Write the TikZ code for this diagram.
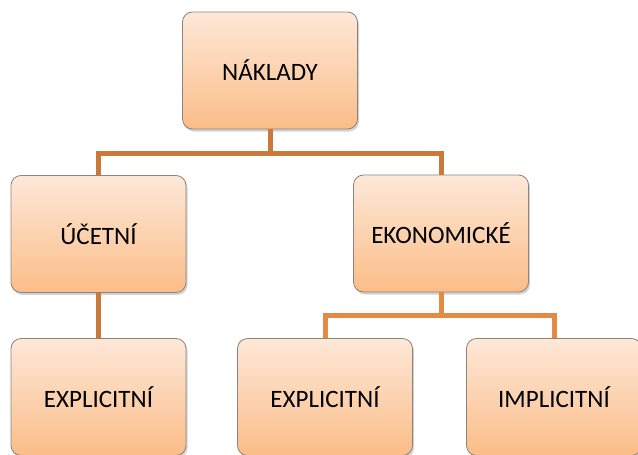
\documentclass[tikz,border=0pt]{standalone}
\usepackage{fontspec}
\setmainfont{Carlito}
\usepackage{tikz}
\usetikzlibrary{calc}
\usetikzlibrary{shadows}

\definecolor{boxtop}{HTML}{FDE8D8}
\definecolor{boxbottom}{HTML}{FBBD88}
\definecolor{boxrim}{HTML}{8E837B}
\definecolor{linkdark}{HTML}{C97A3A}
\definecolor{linklight}{HTML}{E38B45}

\tikzset{
  costbox/.style={draw=boxrim, line width=0.8pt, rounded corners=10pt,
    top color=boxtop, bottom color=boxbottom,
    minimum width=175pt, minimum height=117pt,
    font=\fontsize{25}{30}\selectfont,
    drop shadow={shadow xshift=1.5pt, shadow yshift=-2.5pt, opacity=0.35}},
  link/.style={line width=5pt, color=#1}
}

\begin{document}
\begin{tikzpicture}[x=1pt, y=-1pt]

\useasboundingbox (0, 0) rectangle (638, 455);
\clip (0, 0) rectangle (638, 455);

\node[costbox] (naklady) at (270, 70.5) {NÁKLADY};
\node[costbox] (ucetni) at (98.5, 234) {ÚČETNÍ};
\node[costbox] (ekonomicke) at (441, 233.5) {EKONOMICKÉ};

\node[costbox] (explicit1) at (98.5, 397) {EXPLICITNÍ};
\node[costbox] (explicit2) at (325, 397) {EXPLICITNÍ};
\node[costbox] (implicit) at (554, 397) {IMPLICITNÍ};

\draw[link=linkdark] (naklady.south) -- ++(0, 24.5) coordinate (split);
\draw[link=linkdark] (ucetni.north) |- (split) -| (ekonomicke.north);
\draw[link=linkdark] (ucetni.south) -- (explicit1.north);

\draw[link=linklight] (ekonomicke.south) -- ++(0, 23.5) coordinate (split2);
\draw[link=linklight] (explicit2.north) |- (split2) -| (implicit.north);

\end{tikzpicture}
\end{document}
